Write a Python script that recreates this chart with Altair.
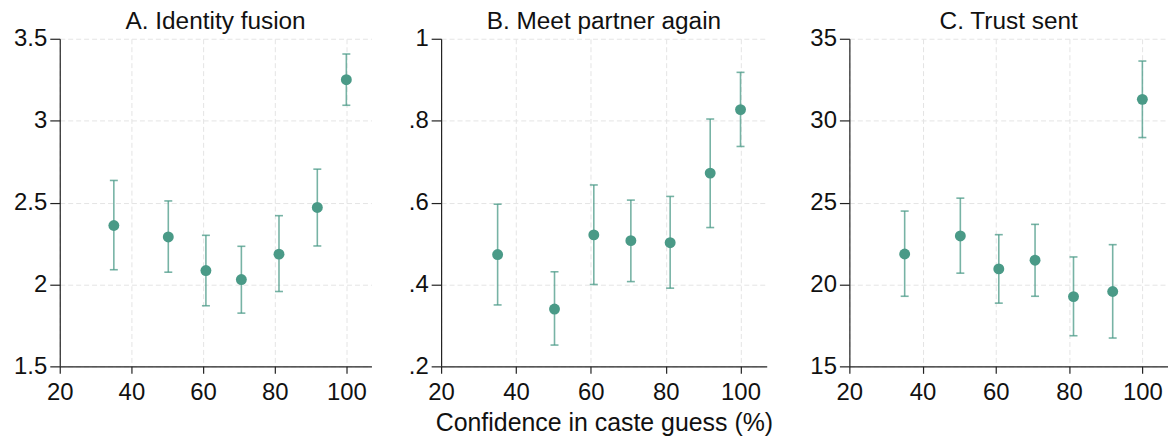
import altair as alt
import pandas as pd

# Confidence in caste guess (%) bins
x_vals = [35.1, 50.3, 60.8, 70.7, 81.2, 91.9, 100.0]

# A. Identity fusion
fusion_mean = [2.36, 2.29, 2.085, 2.03, 2.185, 2.47, 3.25]
fusion_lo = [2.09, 2.075, 1.87, 1.825, 1.957, 2.235, 3.094]
fusion_hi = [2.635, 2.51, 2.30, 2.233, 2.42, 2.704, 3.407]

# B. Meet partner again
meet_mean = [0.473, 0.340, 0.521, 0.507, 0.502, 0.672, 0.827]
meet_lo = [0.350, 0.252, 0.400, 0.407, 0.391, 0.539, 0.737]
meet_hi = [0.596, 0.431, 0.643, 0.606, 0.615, 0.804, 0.918]

# C. Trust sent
trust_mean = [21.86, 22.96, 20.95, 21.48, 19.26, 19.57, 31.30]
trust_lo = [19.28, 20.69, 18.86, 19.28, 16.87, 16.73, 28.97]
trust_hi = [24.48, 25.27, 23.04, 23.67, 21.68, 22.43, 33.64]

x_ticks = [20, 40, 60, 80, 100]
COLOR = "#4a9a87"
FONT = "Liberation Sans"


def panel(title, mean, lo, hi, ydomain, yticks, width, xtitle=None, label_expr=None):
    df = pd.DataFrame({"x": x_vals, "m": mean, "lo": lo, "hi": hi})
    base = alt.Chart(df)
    xenc = alt.X(
        "x:Q",
        scale=alt.Scale(domain=[20, 107], nice=False, zero=False),
        axis=alt.Axis(values=x_ticks, format="d", labelFlush=False, labelOverlap=False),
        title=xtitle,
    )
    y_axis_kwargs = dict(values=yticks, format="~g", labelFlush=False, labelOverlap=False)
    if label_expr:
        y_axis_kwargs["labelExpr"] = label_expr
    yscale = alt.Scale(domain=ydomain, nice=False, zero=False)
    yaxis = alt.Axis(**y_axis_kwargs)

    rule = base.mark_rule(color=COLOR, opacity=0.75, strokeWidth=1.6).encode(
        x=xenc,
        y=alt.Y("lo:Q", scale=yscale, axis=yaxis, title=None),
        y2="hi:Q",
    )
    cap_lo = base.mark_tick(color=COLOR, opacity=0.75, orient="horizontal", size=8, thickness=1.6).encode(
        x=xenc, y=alt.Y("lo:Q", scale=yscale, axis=yaxis, title=None)
    )
    cap_hi = base.mark_tick(color=COLOR, opacity=0.75, orient="horizontal", size=8, thickness=1.6).encode(
        x=xenc, y=alt.Y("hi:Q", scale=yscale, axis=yaxis, title=None)
    )
    pts = base.mark_circle(color=COLOR, opacity=1, size=120).encode(
        x=xenc, y=alt.Y("m:Q", scale=yscale, axis=yaxis, title=None)
    )
    return alt.layer(rule, cap_lo, cap_hi, pts).properties(
        width=width, height=329, title=title
    )


pa = panel("A. Identity fusion", fusion_mean, fusion_lo, fusion_hi,
           [1.5, 3.5], [1.5, 2, 2.5, 3, 3.5], 313)
pb = panel("B. Meet partner again", meet_mean, meet_lo, meet_hi,
           [0.2, 1.0], [0.2, 0.4, 0.6, 0.8, 1.0], 327,
           xtitle="Confidence in caste guess (%)",
           label_expr="replace(format(datum.value, '~g'), '0.', '.')")
pc = panel("C. Trust sent", trust_mean, trust_lo, trust_hi,
           [15, 35], [15, 20, 25, 30, 35], 320)

chart = (
    alt.hconcat(pa, pb, pc, spacing=36)
    .properties(padding={"left": 13, "top": 8, "right": 0, "bottom": 0}, background="white")
    .configure_view(strokeOpacity=0)
    .configure_axis(
        domainColor="#222222",
        domainWidth=1.2,
        tickColor="#222222",
        tickWidth=1.2,
        labelFont=FONT,
        labelFontSize=24,
        labelColor="#111111",
        titleFont=FONT,
        titleFontSize=25,
        titleFontWeight="normal",
        titleColor="#111111",
        titlePadding=6,
        grid=True,
        gridColor="#e4e4e4",
        gridDash=[5, 3],
        gridWidth=1,
    )
    .configure_axisX(tickSize=7, labelPadding=7)
    .configure_axisY(tickSize=10, labelPadding=3)
    .configure_title(
        font=FONT, fontSize=24.5, fontWeight="normal", color="#111111", offset=-7.5
    )
)

chart.save("out.html", embed_options={"renderer": "svg", "actions": False})
